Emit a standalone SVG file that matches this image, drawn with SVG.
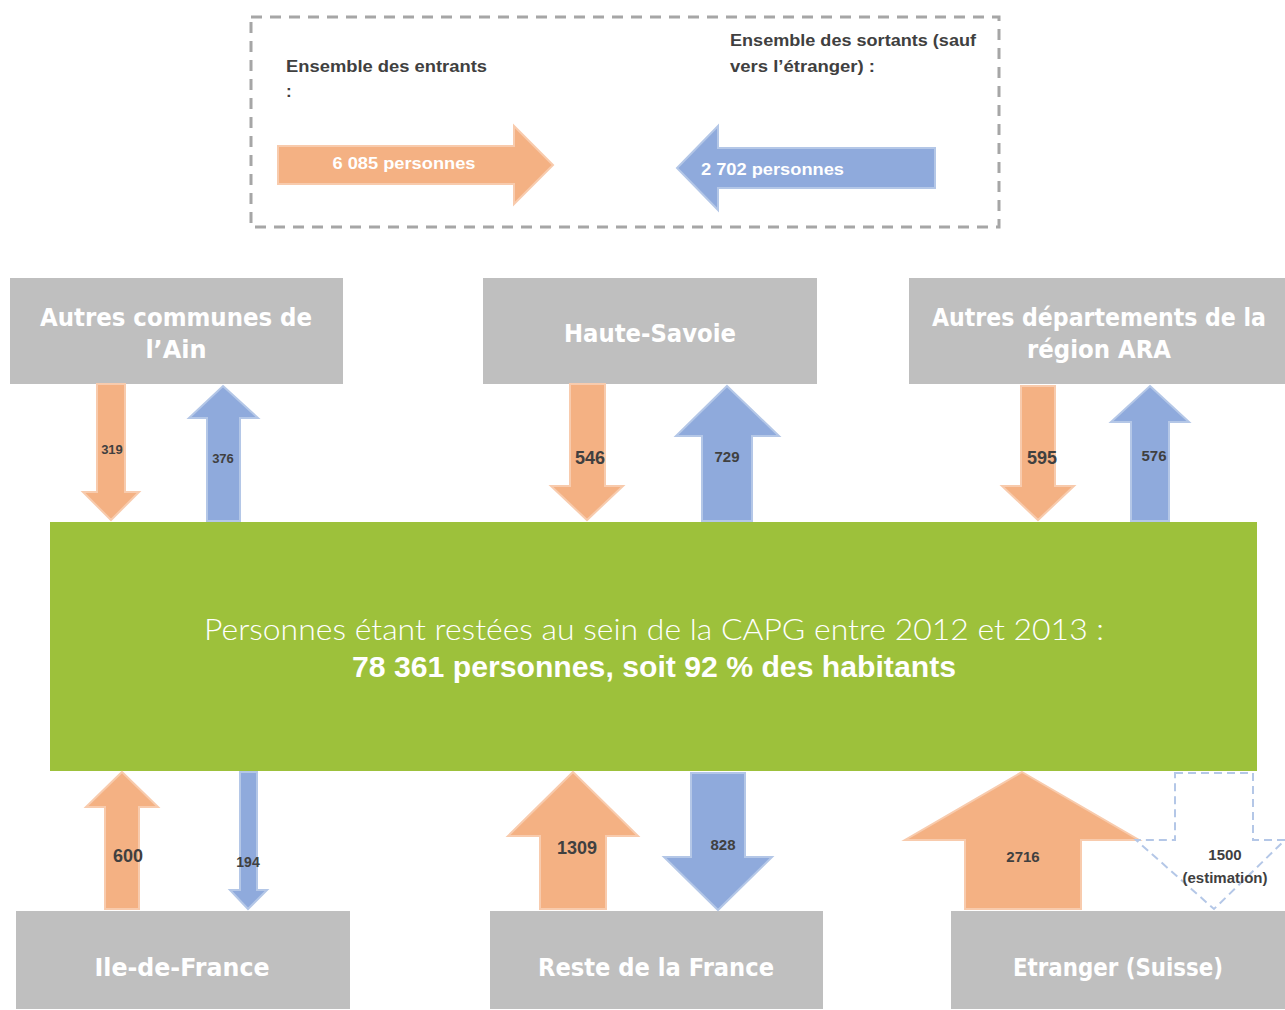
<svg xmlns="http://www.w3.org/2000/svg" width="1285" height="1010" viewBox="0 0 1285 1010">
<style>
.box{fill:#bfbfbf}
.bt{font-family:"DejaVu Sans","Liberation Sans",sans-serif;font-weight:bold;font-size:24px;fill:#ffffff;text-anchor:middle}
.or{fill:#f4b183;stroke:#f8cbad;stroke-width:2}
.bl{fill:#8faadc;stroke:#b4c7e7;stroke-width:2}
.num{font-family:"Liberation Sans",Arial,sans-serif;font-weight:bold;fill:#404040;text-anchor:middle}
.hd{font-family:"Liberation Sans",Arial,sans-serif;font-weight:bold;font-size:17px;fill:#404040}
.wt{font-family:"Liberation Sans",Arial,sans-serif;font-weight:bold;font-size:17px;fill:#ffffff}
</style>
<rect width="1285" height="1010" fill="#ffffff"/>

<g id="legend">
<rect x="251" y="17" width="748" height="210" fill="none" stroke="#a6a6a6" stroke-width="3" stroke-dasharray="11,8"/>
<text class="hd" x="286" y="72" textLength="201" lengthAdjust="spacingAndGlyphs">Ensemble des entrants</text>
<text class="hd" x="286" y="97">:</text>
<text class="hd" x="730" y="46" textLength="246" lengthAdjust="spacingAndGlyphs">Ensemble des sortants (sauf</text>
<text class="hd" x="730" y="72" textLength="145" lengthAdjust="spacingAndGlyphs">vers l’étranger) :</text>
<polygon class="or" points="278,146 514,146 514,126 553,165 514,204 514,184 278,184"/>
<text class="wt" x="404" y="169" text-anchor="middle" textLength="143" lengthAdjust="spacingAndGlyphs">6 085 personnes</text>
<polygon class="bl" points="935,148 718,148 718,126 677,168 718,210 718,188 935,188"/>
<text class="wt" x="701" y="175" textLength="143" lengthAdjust="spacingAndGlyphs">2 702 personnes</text>
</g>

<g id="center">
<rect x="50" y="522" width="1207" height="249" fill="#9dc13b"/>
<text x="654" y="640" text-anchor="middle" font-family="Lato,'Open Sans',sans-serif" font-weight="300" font-size="29" fill="#ffffff" textLength="900" lengthAdjust="spacingAndGlyphs">Personnes étant restées au sein de la CAPG entre 2012 et 2013 :</text>
<text x="654" y="677" text-anchor="middle" font-family="'Liberation Sans',Arial,sans-serif" font-weight="bold" font-size="29" fill="#ffffff" textLength="604" lengthAdjust="spacingAndGlyphs">78 361 personnes, soit 92 % des habitants</text>
</g>

<g id="n-ain">
<rect class="box" x="10" y="278" width="333" height="106"/>
<text class="bt" x="176" y="326" textLength="272" lengthAdjust="spacingAndGlyphs">Autres communes de</text>
<text class="bt" x="176" y="358">l’Ain</text>
</g>
<g id="n-hs">
<rect class="box" x="483" y="278" width="334" height="106"/>
<text class="bt" x="650" y="342" textLength="172" lengthAdjust="spacingAndGlyphs">Haute-Savoie</text>
</g>
<g id="n-ara">
<rect class="box" x="909" y="278" width="376" height="106"/>
<text class="bt" x="1099" y="326" textLength="334" lengthAdjust="spacingAndGlyphs">Autres départements de la</text>
<text class="bt" x="1099" y="358" textLength="144" lengthAdjust="spacingAndGlyphs">région ARA</text>
</g>
<g id="n-idf">
<rect class="box" x="16" y="911" width="334" height="98"/>
<text class="bt" x="182" y="976" textLength="175" lengthAdjust="spacingAndGlyphs">Ile-de-France</text>
</g>
<g id="n-rdf">
<rect class="box" x="490" y="911" width="333" height="98"/>
<text class="bt" x="656" y="976" textLength="236" lengthAdjust="spacingAndGlyphs">Reste de la France</text>
</g>
<g id="n-etr">
<rect class="box" x="951" y="911" width="334" height="98"/>
<text class="bt" x="1118" y="976" textLength="210" lengthAdjust="spacingAndGlyphs">Etranger (Suisse)</text>
</g>

<g id="connectors">
<polygon class="or" points="97,384 125,384 125,492 139,492 111,520 83,492 97,492"/>
<text class="num" x="112" y="454" font-size="13">319</text>
<polygon class="bl" points="223,386 258,418 240,418 240,521 207,521 207,418 189,418"/>
<text class="num" x="223" y="463" font-size="13">376</text>
<polygon class="or" points="570,384 605,384 605,486 623,486 587,520 551,486 570,486"/>
<text class="num" x="590" y="464" font-size="18">546</text>
<polygon class="bl" points="727,386 779,436 752,436 752,521 702,521 702,436 676,436"/>
<text class="num" x="727" y="462" font-size="15">729</text>
<polygon class="or" points="1021,386 1055,386 1055,486 1074,486 1038,520 1002,486 1021,486"/>
<text class="num" x="1042" y="464" font-size="18">595</text>
<polygon class="bl" points="1150,386 1189,422 1169,422 1169,521 1131,521 1131,422 1111,422"/>
<text class="num" x="1154" y="461" font-size="15">576</text>
<polygon class="or" points="122,772 158,807 139,807 139,909 105,909 105,807 86,807"/>
<text class="num" x="128" y="862" font-size="18">600</text>
<polygon class="bl" points="240,772 257,772 257,890 267,890 248,909 230,890 240,890"/>
<text class="num" x="248" y="867" font-size="14">194</text>
<polygon class="or" points="573,772 638,836 606,836 606,909 540,909 540,836 508,836"/>
<text class="num" x="577" y="854" font-size="18">1309</text>
<polygon class="bl" points="691,773 745,773 745,857 772,857 718,910 664,857 691,857"/>
<text class="num" x="723" y="850" font-size="15">828</text>
<polygon class="or" points="1022,772 1139,840 1081,840 1081,909 965,909 965,840 905,840"/>
<text class="num" x="1023" y="862" font-size="15">2716</text>
<polygon points="1175,773 1253,773 1253,840 1285,840 1214,909 1136,840 1175,840" fill="none" stroke="#b4c7e7" stroke-width="2" stroke-dasharray="8,5"/>
<text class="num" x="1225" y="860" font-size="15">1500</text>
<text class="num" x="1225" y="883" font-size="15">(estimation)</text>
</g>
</svg>
